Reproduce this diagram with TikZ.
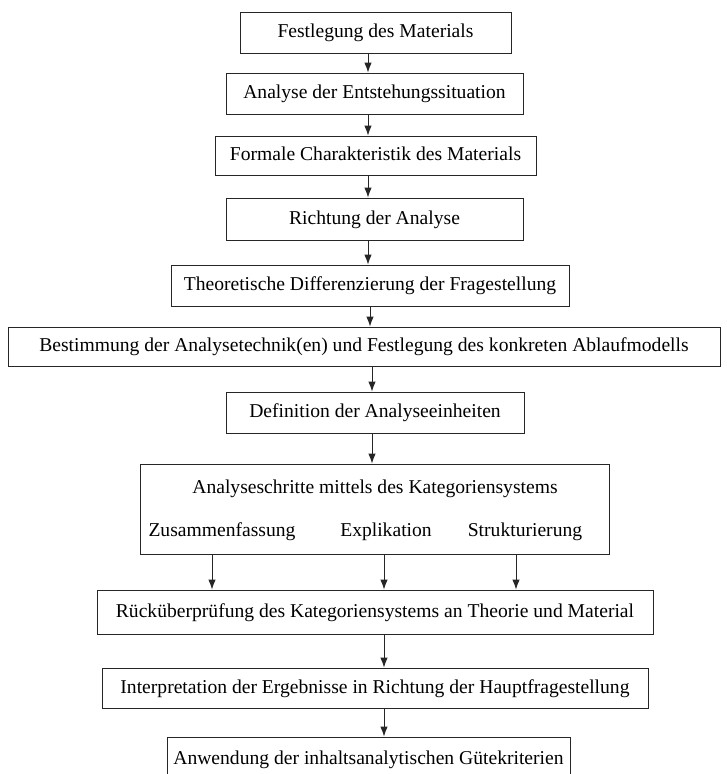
\documentclass[tikz,border=0pt]{standalone}
\usepackage{fontspec}
\setmainfont{Liberation Serif}
\usetikzlibrary{arrows.meta}
\begin{document}
\begin{tikzpicture}[x=1pt,y=-1pt,
  font=\fontsize{19.6}{23}\selectfont,
  box/.style={draw=black!85, line width=0.9pt, inner sep=0pt, anchor=center, text height=14pt, text depth=4pt},
  lbl/.style={inner sep=0pt, anchor=center, text height=14pt, text depth=4pt},
  arr/.style={draw=black!85, line width=0.9pt, -{Latex[length=10pt,width=7.5pt]}}]
\clip (0,0) rectangle (727,774);
\fill[white] (0,0) rectangle (727,774);
% boxes
\node[box, minimum width=271, minimum height=41] (b1) at (375.5,32.5) {Festlegung des Materials};
\node[box, minimum width=297, minimum height=41] (b2) at (374.5,93.5) {Analyse der Entstehungssituation};
\node[box, minimum width=321, minimum height=39] (b3) at (375.5,155.5) {Formale Charakteristik des Materials};
\node[box, minimum width=297, minimum height=42] (b4) at (374.5,219) {Richtung der Analyse};
\node[box, minimum width=398, minimum height=41] (b5) at (370,285.5) {Theoretische Differenzierung der Fragestellung};
\node[box, minimum width=712, minimum height=39] (b6) at (364,346.5) {Bestimmung der Analysetechnik(en) und Festlegung des konkreten Ablaufmodells};
\node[box, minimum width=298, minimum height=41] (b7) at (375,412.5) {Definition der Analyseeinheiten};
\node[box, minimum width=469, minimum height=90] (b8) at (374.5,509) {};
\node[lbl] (t8) at (375,488) {Analyseschritte mittels des Kategoriensystems};
\node[lbl] (z1) at (222,531) {Zusammenfassung};
\node[lbl] (z2) at (386,531) {Explikation};
\node[lbl] (z3) at (525,531) {Strukturierung};
\node[box, minimum width=556, minimum height=44] (b9) at (375,612) {R\"uck\"uberpr\"ufung des Kategoriensystems an Theorie und Material};
\node[box, minimum width=546, minimum height=40] (b10) at (375,688) {Interpretation der Ergebnisse in Richtung der Hauptfragestellung};
\node[box, minimum width=403, minimum height=44] (b11) at (368.5,759) {Anwendung der inhaltsanalytischen G\"utekriterien};
% connectors
\coordinate (xa) at (368,0);
\coordinate (xb) at (370,0);
\coordinate (xc) at (372,0);
\coordinate (xd) at (384,0);
\coordinate (xl) at (212,0);
\coordinate (xr) at (516,0);
\draw[arr] (b1.south -| xa) -- (b2.north -| xa);
\draw[arr] (b2.south -| xa) -- (b3.north -| xa);
\draw[arr] (b3.south -| xa) -- (b4.north -| xa);
\draw[arr] (b4.south -| xa) -- (b5.north -| xa);
\draw[arr] (b5.south -| xb) -- (b6.north -| xb);
\draw[arr] (b6.south -| xc) -- (b7.north -| xc);
\draw[arr] (b7.south -| xc) -- (b8.north -| xc);
\draw[arr] (b8.south -| xl) -- (b9.north -| xl);
\draw[arr] (b8.south -| xd) -- (b9.north -| xd);
\draw[arr] (b8.south -| xr) -- (b9.north -| xr);
\draw[arr] (b9.south -| xd) -- (b10.north -| xd);
\draw[arr] (b10.south -| xd) -- (b11.north -| xd);
\end{tikzpicture}
\end{document}
